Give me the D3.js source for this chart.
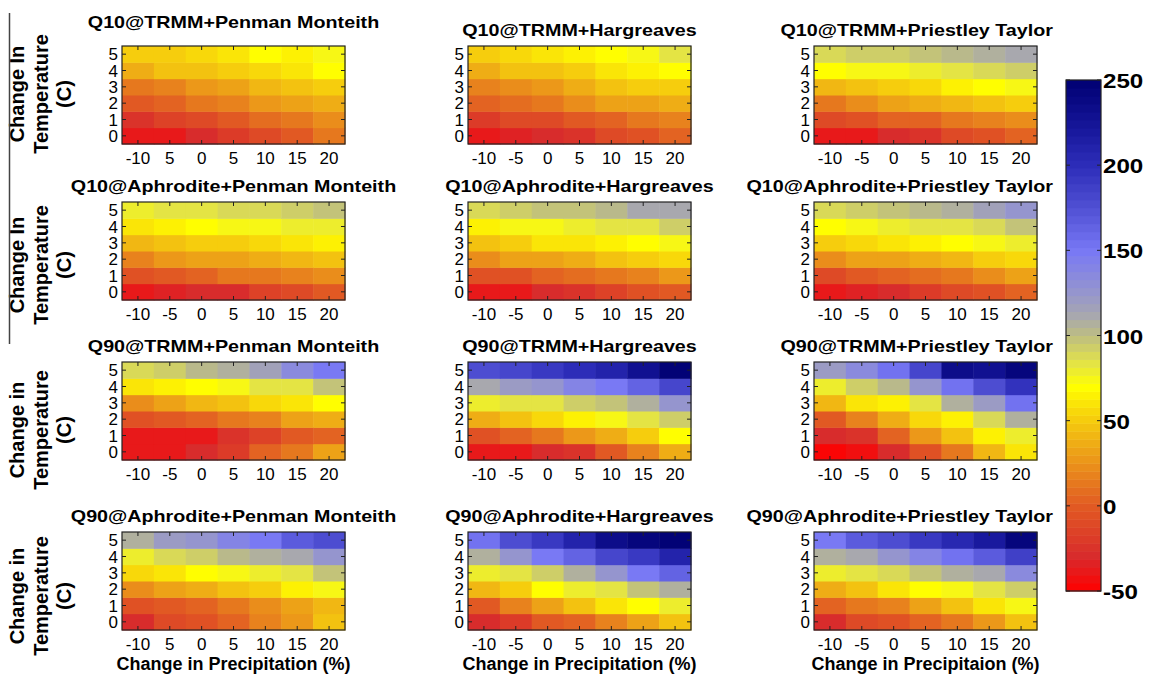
<!DOCTYPE html>
<html>
<head>
<meta charset="utf-8">
<script src="https://cdn.jsdelivr.net/npm/d3@7"></script>
<style>
  body { margin: 0; background: #fff; }
  svg text { font-family: Arial, "Liberation Sans", Helvetica, sans-serif; fill: #000; }
</style>
</head>
<body>
<svg id="chart" width="1150" height="676"></svg>
<script>
// x: change in precipitation (%), y: change in temperature (C)
const precip = [-10, -5, 0, 5, 10, 15, 20];
const tempChange = [0, 1, 2, 3, 4, 5];
const precipLabels = ["-10", "-5", "0", "5", "10", "15", "20"];
const precipLabelsTypo = ["-10", "5", "0", "5", "10", "15", "20"];
const colorbarTicks = [250, 200, 150, 100, 50, 0, -50];

const panelTitles = [
  "Q10@TRMM+Penman Monteith", "Q10@TRMM+Hargreaves", "Q10@TRMM+Priestley Taylor",
  "Q10@Aphrodite+Penman Monteith", "Q10@Aphrodite+Hargreaves", "Q10@Aphrodite+Priestley Taylor",
  "Q90@TRMM+Penman Monteith", "Q90@TRMM+Hargreaves", "Q90@TRMM+Priestley Taylor",
  "Q90@Aphrodite+Penman Monteith", "Q90@Aphrodite+Hargreaves", "Q90@Aphrodite+Priestley Taylor"
];
const rowLabels = ["Change In", "Change In", "Change in", "Change in"];
const xTitles = ["Change in Precipitation (%)", "Change in Precipitation (%)", "Change in Precipitaion (%)"];

// rows are temperature change 0..5, columns are precip -10..20
const q10TrmmPM = [
  [-40, -38, -30, -20, -10, -3, 14],
  [-25, -15, -8, 0, 8, 15, 24],
  [0, 5, 15, 20, 27, 33, 38],
  [15, 20, 28, 34, 40, 46, 53],
  [35, 45, 48, 52, 54, 58, 70],
  [50, 52, 55, 58, 68, 66, 75]
];
const q10TrmmHG = [
  [-38, -33, -28, -22, -12, -5, 5],
  [-18, -12, -10, 0, 5, 11, 20],
  [2, 8, 13, 22, 30, 34, 38],
  [20, 24, 28, 38, 45, 49, 53],
  [38, 46, 48, 52, 58, 63, 70],
  [52, 55, 58, 66, 70, 76, 85]
];
const q10TrmmPT = [
  [-40, -38, -28, -22, -12, -5, 2],
  [-12, -7, 2, 6, 11, 18, 24],
  [15, 23, 31, 36, 40, 47, 53],
  [40, 47, 51, 57, 63, 70, 75],
  [70, 73, 75, 78, 82, 88, 92],
  [88, 92, 95, 98, 100, 105, 112]
];
const q10AphPM = [
  [-38, -34, -30, -28, -15, -8, -2],
  [-7, 0, 4, 11, 15, 19, 24],
  [20, 25, 30, 34, 36, 40, 45],
  [40, 47, 49, 51, 55, 60, 66],
  [58, 66, 70, 72, 74, 77, 81],
  [78, 82, 85, 86, 90, 92, 97]
];
const q10AphHG = [
  [-38, -38, -30, -26, -15, -7, -2],
  [-7, -5, 4, 8, 15, 19, 26],
  [22, 30, 34, 38, 45, 49, 55],
  [47, 51, 58, 60, 66, 70, 73],
  [67, 75, 76, 79, 82, 85, 92],
  [90, 92, 96, 99, 102, 110, 112]
];
const q10AphPT = [
  [-40, -34, -30, -20, -12, -7, 2],
  [-10, -2, 4, 8, 15, 22, 30],
  [23, 30, 34, 38, 42, 49, 55],
  [49, 54, 58, 63, 70, 73, 78],
  [70, 75, 78, 83, 85, 90, 96],
  [90, 95, 99, 102, 108, 115, 125]
];
const q90TrmmPM = [
  [-40, -38, -30, -20, 5, 15, 30],
  [-40, -40, -38, -22, -15, 0, 5],
  [-7, -2, 4, 11, 19, 32, 38],
  [23, 30, 40, 45, 55, 60, 70],
  [58, 64, 70, 75, 83, 85, 96],
  [90, 95, 102, 108, 115, 135, 150]
];
const q90TrmmHG = [
  [-40, -38, -30, -24, 0, 18, 38],
  [-5, 5, 13, 27, 38, 49, 70],
  [38, 48, 55, 66, 73, 82, 92],
  [78, 82, 85, 92, 99, 108, 125],
  [110, 120, 125, 140, 150, 162, 180],
  [178, 183, 192, 200, 210, 228, 248]
];
const q90TrmmPT = [
  [-50, -42, -30, -7, 13, 40, 58],
  [-30, -24, 4, 25, 45, 66, 80],
  [0, 19, 38, 57, 66, 88, 108],
  [40, 58, 66, 85, 105, 120, 155],
  [80, 92, 102, 125, 152, 178, 195],
  [120, 135, 155, 183, 235, 230, 242]
];
const q90AphPM = [
  [-30, -10, -5, 4, 18, 27, 45],
  [-5, -2, 5, 13, 22, 30, 42],
  [23, 34, 37, 45, 49, 64, 74],
  [55, 62, 70, 73, 78, 85, 96],
  [80, 90, 95, 100, 108, 114, 126],
  [108, 120, 125, 140, 150, 170, 178]
];
const q90AphHG = [
  [-30, -20, -2, 4, 20, 32, 45],
  [0, 18, 32, 45, 58, 70, 78],
  [40, 52, 70, 78, 85, 96, 108],
  [78, 85, 95, 108, 125, 150, 162],
  [108, 126, 150, 162, 180, 192, 212],
  [155, 175, 190, 210, 232, 244, 248]
];
const q90AphPT = [
  [-28, -12, -5, 4, 15, 27, 45],
  [2, 13, 20, 34, 45, 58, 74],
  [37, 48, 58, 68, 75, 85, 95],
  [78, 82, 90, 96, 105, 114, 135],
  [108, 114, 126, 140, 152, 167, 185],
  [150, 167, 178, 190, 205, 220, 242]
];

const panelValues = [q10TrmmPM, q10TrmmHG, q10TrmmPT, q10AphPM, q10AphHG, q10AphPT,
  q90TrmmPM, q90TrmmHG, q90TrmmPT, q90AphPM, q90AphHG, q90AphPT];
const panelXLabels = [precipLabelsTypo, precipLabels, precipLabels, precipLabels, precipLabels, precipLabels,
  precipLabels, precipLabels, precipLabels, precipLabelsTypo, precipLabels, precipLabels];

// colour map: red -> yellow -> grey -> blue -> navy
const cmapStops = [-50, -30, -20, 0, 20, 40, 55, 70, 85, 100, 110, 125, 150, 175, 200, 225, 250];
const cmapColors = ["#ff0000", "#d82a2c", "#dc3a28", "#e15a23", "#e9871c", "#f0b414", "#f8d70a", "#ffff00",
  "#e1e14b", "#bebe82", "#aaaaaa", "#9696cd", "#7878f5", "#5050d4", "#2d2db9", "#141496", "#000073"];

const baseColor = d3.scaleLinear().domain(cmapStops).range(cmapColors).clamp(true);
const nLevels = 64;
const levelW = 300 / nLevels;
function cmap(v) {
  let i = Math.floor((v + 50) / levelW);
  i = Math.max(0, Math.min(nLevels - 1, i));
  return baseColor(-50 + (i + 0.5) * levelW);
}

const svg = d3.select("#chart");

// layout
const colX = [122, 468, 814];
const rowY = [46, 202, 362, 532];
const plotW = 223, plotH = 98;
const ylabCenter = [94, 265, 430, 596];

function stretchedText(parent, x, y, str, size, sx, anchor) {
  return parent.append("text")
    .attr("transform", `translate(${x},${y}) scale(${sx},1)`)
    .attr("text-anchor", anchor)
    .style("font-size", size + "px")
    .style("font-weight", "bold")
    .text(str);
}

panelValues.forEach((vals, p) => {
  const r = Math.floor(p / 3), c = p % 3;
  const x0 = colX[c], y0 = rowY[r];

  const x = d3.scaleBand().domain(precip).range([x0, x0 + plotW]);
  const y = d3.scaleBand().domain(tempChange.slice().reverse()).range([y0, y0 + plotH]);

  const g = svg.append("g");
  const cells = [];
  tempChange.forEach((t, ti) => precip.forEach((pr, pi) => cells.push({ t, pr, v: vals[ti][pi] })));

  g.selectAll("rect.cell").data(cells).enter().append("rect")
    .attr("class", "cell")
    .attr("x", d => x(d.pr))
    .attr("y", d => y(d.t))
    .attr("width", x.bandwidth() + 0.5)
    .attr("height", y.bandwidth() + 0.5)
    .attr("fill", d => cmap(d.v));

  // inner tick marks, matlab style
  const tl = 4;
  precip.forEach(pr => {
    const cx = x(pr) + x.bandwidth() / 2;
    g.append("line").attr("x1", cx).attr("x2", cx).attr("y1", y0).attr("y2", y0 + tl).attr("stroke", "#222");
    g.append("line").attr("x1", cx).attr("x2", cx).attr("y1", y0 + plotH).attr("y2", y0 + plotH - tl).attr("stroke", "#222");
  });
  tempChange.forEach(t => {
    const cy = y(t) + y.bandwidth() / 2;
    g.append("line").attr("x1", x0).attr("x2", x0 + tl).attr("y1", cy).attr("y2", cy).attr("stroke", "#222");
    g.append("line").attr("x1", x0 + plotW).attr("x2", x0 + plotW - tl).attr("y1", cy).attr("y2", cy).attr("stroke", "#222");
  });

  g.append("rect")
    .attr("x", x0).attr("y", y0).attr("width", plotW).attr("height", plotH)
    .attr("fill", "none").attr("stroke", "#222").attr("stroke-width", 1.2);

  // tick labels
  g.selectAll("text.xt").data(precip).enter().append("text")
    .attr("x", d => x(d) + x.bandwidth() / 2)
    .attr("y", y0 + plotH + 20)
    .attr("text-anchor", "middle")
    .style("font-size", "17px")
    .text((d, i) => panelXLabels[p][i]);

  g.selectAll("text.yt").data(tempChange).enter().append("text")
    .attr("x", x0 - 4)
    .attr("y", d => y(d) + y.bandwidth() / 2 + 6)
    .attr("text-anchor", "end")
    .style("font-size", "17px")
    .text(d => d);

  // panel title
  const ty = (p === 0) ? 28 : y0 - 10;
  if (c === 2) stretchedText(g, 1053, ty, panelTitles[p], 17, 1.16, "end");
  else stretchedText(g, x0 + plotW / 2, ty, panelTitles[p], 17, 1.16, "middle");

  if (r === 3) {
    g.append("text")
      .attr("x", x0 + plotW / 2).attr("y", 670)
      .attr("text-anchor", "middle")
      .style("font-size", "18px").style("font-weight", "bold")
      .text(xTitles[c]);
  }
});

// y axis labels
rowLabels.forEach((lab, r) => {
  const lines = [lab, "Temperature", "(C)"];
  const bx = [24, 48, 71];
  lines.forEach((ln, i) => {
    svg.append("text")
      .attr("transform", `translate(${bx[i]},${ylabCenter[r]}) rotate(-90)`)
      .attr("text-anchor", "middle")
      .style("font-size", "20px").style("font-weight", "bold")
      .text(ln);
  });
});

// left rule
svg.append("line").attr("x1", 9.5).attr("x2", 9.5).attr("y1", 13).attr("y2", 344)
  .attr("stroke", "#444").attr("stroke-width", 1.5);

// colorbar
const cbX = 1066, cbW = 35;
const cbScale = d3.scaleLinear().domain([-50, 250]).range([591, 80]);
const cb = svg.append("g");
d3.range(nLevels).forEach(i => {
  const v0 = -50 + i * levelW, v1 = v0 + levelW;
  cb.append("rect")
    .attr("x", cbX).attr("y", cbScale(v1))
    .attr("width", cbW).attr("height", cbScale(v0) - cbScale(v1) + 0.5)
    .attr("fill", cmap(v0 + levelW / 2));
});
cb.append("rect").attr("x", cbX).attr("y", 80).attr("width", cbW).attr("height", 511)
  .attr("fill", "none").attr("stroke", "#222").attr("stroke-width", 1.2);
colorbarTicks.forEach(t => {
  const yy = cbScale(t);
  cb.append("line").attr("x1", cbX).attr("x2", cbX + 4).attr("y1", yy).attr("y2", yy).attr("stroke", "#222");
  cb.append("line").attr("x1", cbX + cbW).attr("x2", cbX + cbW - 4).attr("y1", yy).attr("y2", yy).attr("stroke", "#222");
  stretchedText(cb, 1103, yy + 8, String(t), 21, 1.15, "start");
});
</script>
</body>
</html>
